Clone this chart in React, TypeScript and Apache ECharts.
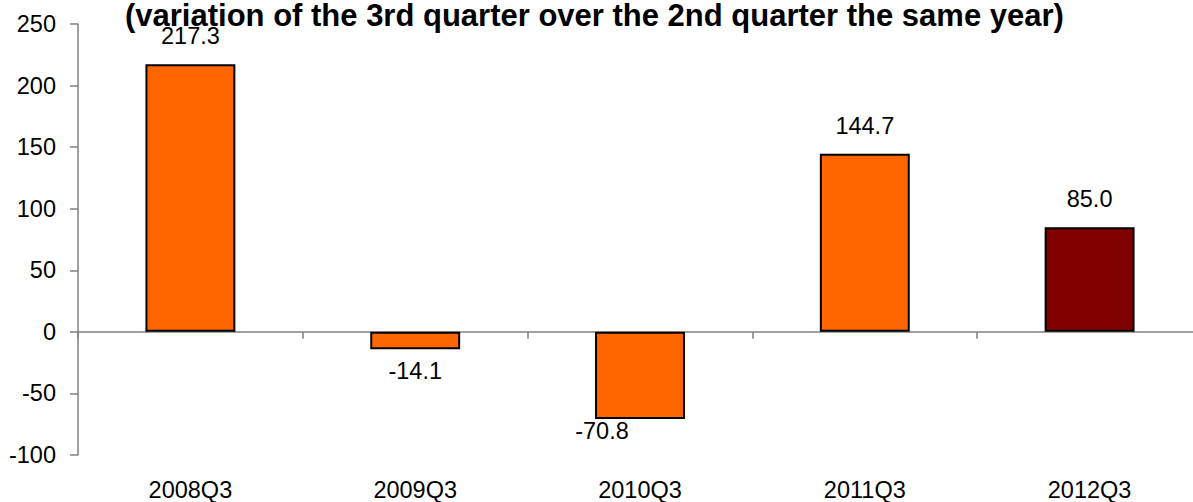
import React, { useEffect, useRef } from "react";
import * as echarts from "echarts";

const titleText = "(variation of the 3rd quarter over the 2nd quarter the same year)";
const categories = ["2008Q3", "2009Q3", "2010Q3", "2011Q3", "2012Q3"];
const values = [217.3, -14.1, -70.8, 144.7, 85.0];
const barColors = ["#FF6600", "#FF6600", "#FF6600", "#FF6600", "#800000"];
const yMin = -100;
const yMax = 250;
const yInterval = 50;

const FONT = "'Liberation Sans', Arial, sans-serif";
const LABEL_SIZE = 23.5;

export default function App() {
  const ref = useRef<HTMLDivElement>(null);
  useEffect(() => {
    document.body.style.margin = "0";
    document.body.style.overflow = "hidden";
    if (!ref.current) return;
    const chart = echarts.init(ref.current, null, { renderer: "svg" });
    const data = values.map((v, i) => {
      const neg = v < 0;
      return {
        value: v,
        itemStyle: { color: barColors[i] },
        label: {
          position: neg ? "bottom" : "top",
          distance: neg ? (v < -50 ? 0 : 10) : 16,
          offset: v < -50 ? [-38, 0] : [0, 0],
        },
      };
    });
    chart.setOption({
      animation: false,
      title: {
        text: titleText,
        left: 125,
        top: 0,
        padding: 0,
        textStyle: { fontFamily: FONT, fontWeight: "bold", fontSize: 31, color: "#000" },
      },
      grid: { left: 78, right: 0, top: 24, bottom: 47, containLabel: false },
      xAxis: [
        {
          type: "category",
          data: categories,
          position: "bottom",
          axisLine: { show: true, onZero: true, lineStyle: { color: "#808080", width: 1.5 } },
          axisTick: { show: true, length: 7, lineStyle: { color: "#808080", width: 1.5 } },
          axisLabel: { show: false },
          splitLine: { show: false },
        },
        {
          type: "category",
          data: categories,
          position: "bottom",
          axisLine: { show: false, onZero: false },
          axisTick: { show: false },
          axisLabel: { show: true, margin: 23, fontFamily: FONT, fontSize: LABEL_SIZE, color: "#000" },
          splitLine: { show: false },
        },
      ],
      yAxis: {
        type: "value",
        min: yMin,
        max: yMax,
        interval: yInterval,
        axisLine: { show: true, lineStyle: { color: "#808080", width: 1.5 } },
        axisTick: { show: true, length: 8, lineStyle: { color: "#808080", width: 1.5 } },
        axisLabel: { margin: 22, fontFamily: FONT, fontSize: LABEL_SIZE, color: "#000" },
        splitLine: { show: false },
      },
      series: [
        {
          type: "bar",
          xAxisIndex: 0,
          data,
          barWidth: "40%",
          itemStyle: { borderColor: "#000", borderWidth: 2 },
          label: {
            show: true,
            fontFamily: FONT,
            fontSize: LABEL_SIZE,
            color: "#000",
            formatter: (p: any) => Number(p.value).toFixed(1),
          },
        },
      ],
    });
    return () => chart.dispose();
  }, []);
  return (
    <div style={{ width: 1193, height: 502, overflow: "hidden", position: "relative" }}>
      <div ref={ref} style={{ width: 1202, height: 502 }} />
    </div>
  );
}
